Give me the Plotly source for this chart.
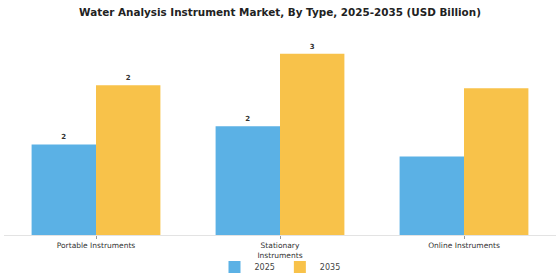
import plotly.graph_objects as go

categories = ["Portable Instruments", "Stationary<br>Instruments", "Online Instruments"]
series_names = ["2025", "2035"]
values_2025 = [1.50, 1.80, 1.30]
values_2035 = [2.48, 3.00, 2.43]
labels_2025 = ["2", "2", ""]
labels_2035 = ["2", "3", ""]

colors = ["#5BB1E5", "#F8C24A"]

fig = go.Figure()
for name, vals, labs, col in zip(series_names, [values_2025, values_2035],
                                 [labels_2025, labels_2035], colors):
    fig.add_trace(go.Bar(
        x=categories, y=vals, name=name, marker_color=col,
        marker_line_width=0,
        text=labs, textposition="outside", cliponaxis=False,
        textfont=dict(family="DejaVu Sans", size=7, color="#333333"),
        texttemplate="<b>%{text}</b>",
    ))

fig.update_layout(
    width=560, height=280,
    margin=dict(l=4, r=4, t=30, b=45, autoexpand=False),
    paper_bgcolor="white", plot_bgcolor="white",
    barmode="group", bargap=0.30, bargroupgap=0,
    title=dict(text="<b>Water Analysis Instrument Market, By Type, 2025-2035 (USD Billion)</b>",
               x=0.5, xanchor="center", y=0.957, yanchor="middle",
               font=dict(family="DejaVu Sans", size=10.4, color="#222222")),
    legend=dict(orientation="h", x=0.5, xanchor="center",
                yref="container", y=0.046, yanchor="middle",
                bgcolor="rgba(0,0,0,0)",
                font=dict(family="DejaVu Sans", size=8, color="#444444"),
                itemwidth=30),
    showlegend=True,
    font=dict(family="DejaVu Sans"),
)
fig.update_xaxes(showline=True, linecolor="#e3e3e3", linewidth=1,
                 ticks="outside", ticklen=3, tickcolor="#999999",
                 automargin=False,
                 tickfont=dict(family="DejaVu Sans", size=7.5, color="#333333"),
                 showgrid=False)
fig.update_yaxes(range=[0, 3.394], visible=False, showgrid=False, zeroline=False,
                 automargin=False)

fig.write_html("out.html")
